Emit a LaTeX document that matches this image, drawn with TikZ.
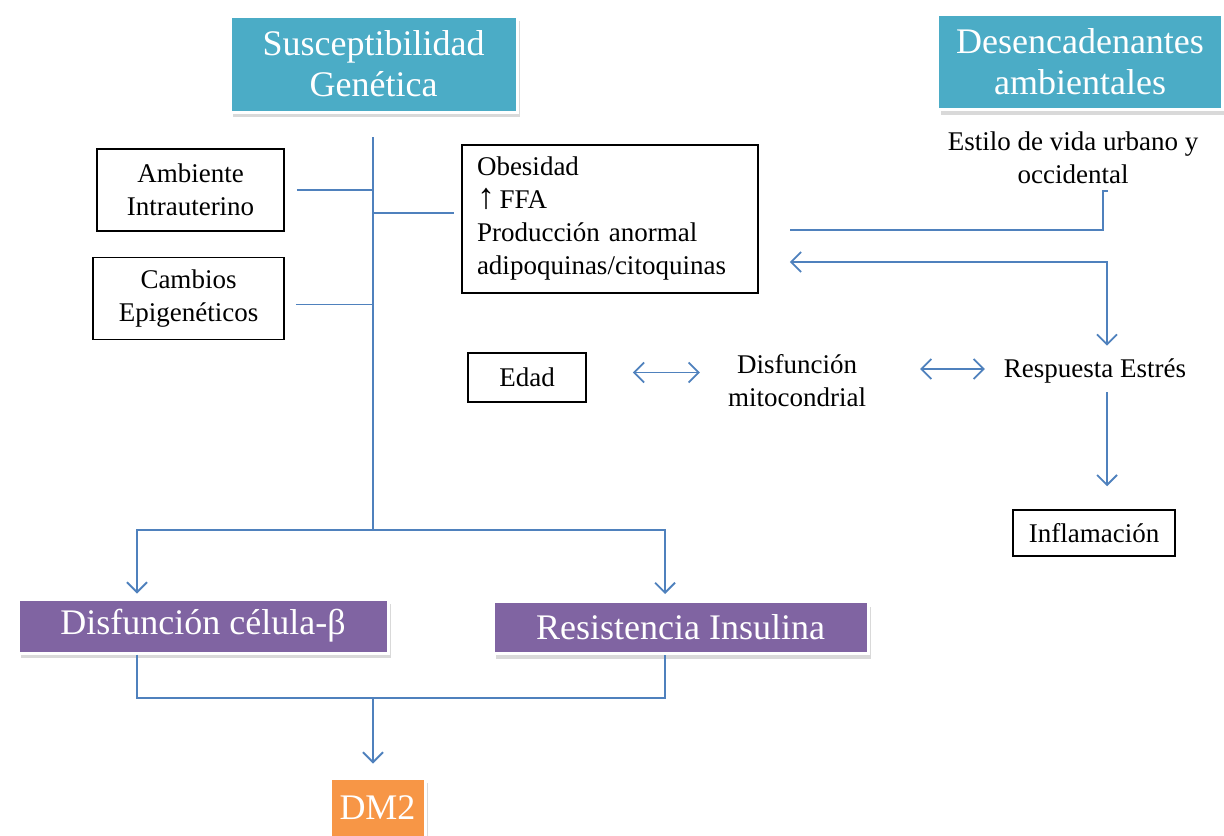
\documentclass[tikz,border=0pt]{standalone}
\usepackage{fontspec}
\setmainfont{Liberation Serif}
\usetikzlibrary{arrows.meta, positioning, shadows}
\definecolor{tealbox}{HTML}{4BACC6}
\definecolor{purplebox}{HTML}{8064A2}
\definecolor{orangebox}{HTML}{F79646}
\definecolor{linkblue}{HTML}{4F81BD}
\tikzstyle{head} = [rectangle, fill=tealbox, draw=white, line width=1.5pt, text=white, align=center, font=\fontsize{18}{20.5}\selectfont, drop shadow={shadow xshift=1.5pt, shadow yshift=-2.5pt, opacity=0.3}]
\tikzstyle{outcome} = [head, fill=purplebox, inner ysep=2pt]
\tikzstyle{factor} = [rectangle, draw=black, line width=0.75pt, align=center, font=\fontsize{13.5}{16.5}\selectfont]
\tikzstyle{plain} = [align=center, font=\fontsize{13.5}{16.5}\selectfont]
\tikzstyle{connector} = [draw=linkblue, line width=0.9pt]
\tikzstyle{arrow} = [connector, -{Straight Barb[length=5pt, width=10pt]}]
\tikzstyle{twoway} = [connector, {Straight Barb[length=5pt, width=10pt]}-{Straight Barb[length=5pt, width=10pt]}]

\begin{document}
\begin{tikzpicture}[x=0.5pt, y=-0.5pt]
\useasboundingbox (0,0) rectangle (1224,835);

\node (sus) [head, minimum width=143.5pt, minimum height=48pt] at (373.5,64) {Susceptibilidad\\Genética};

\node (des) [head, minimum width=142.5pt, minimum height=47.5pt] at (1080,62) {Desencadenantes\\ambientales};

\node (estilo) [plain] at (1073,158) {Estilo de vida urbano y\\occidental};

\node (amb) [factor, minimum width=93.5pt, minimum height=41pt] at (190.5,190) {Ambiente\\Intrauterino};

\node (cam) [factor, below=12.5pt of amb, xshift=-1pt, minimum width=95.5pt, minimum height=41pt] {Cambios\\Epigenéticos};

\node (obes) [factor, align=left, text width=133pt, inner xsep=7.5pt, minimum height=74pt] at (610,219) {Obesidad\\{\fontsize{18}{16.5}\selectfont↑}\,FFA\\Producción anormal\\adipoquinas/citoquinas};

\node (edad) [factor, minimum width=59pt, minimum height=24.5pt] at (527,377.5) {Edad};

\node (mito) [plain] at (797,381) {Disfunción\\mitocondrial};

\node (estres) [plain] at (1095,371) {Respuesta Estrés};

\node (infl) [factor, minimum width=81pt, minimum height=23pt] at (1094,533) {Inflamación};

\node (celb) [outcome, minimum width=185pt, minimum height=27pt] at (203,626) {Disfunción célula-β};

\node (resi) [outcome, minimum width=187.5pt, minimum height=26pt] at (680.5,627.5) {Resistencia Insulina};

\node (dm2) [head, fill=orangebox, minimum width=47.5pt, minimum height=30pt] at (377.5,808) {DM2};

\coordinate (trunk) at (373,137);
\coordinate (split) at (373,530);
\coordinate (join) at (373,698);
\coordinate (fork) at (1107,262);

\draw [connector] (trunk) -- (split);
\draw [connector] ([xshift=6pt]amb.east) -- (amb.east -| trunk);
\draw [connector] ([xshift=5.5pt, yshift=-3pt]cam.east) -- ([yshift=-3pt]cam.east -| trunk);
\draw [connector] ([yshift=3pt]obes.west -| trunk) -- ([xshift=-3.5pt, yshift=3pt]obes.west);
\draw [arrow] (split) -| ([xshift=-33pt, yshift=2pt]celb.north);
\draw [arrow] (split) -| ([xshift=-7.75pt, yshift=3pt]resi.north);
\draw [connector] ([xshift=-33pt]celb.south) |- (join);
\draw [connector] ([xshift=-7.75pt]resi.south) |- (join);
\draw [arrow, shorten >=6.5pt] (join) -- (join |- dm2.north);
\draw [connector] ([xshift=17.5pt]estilo.south) -- ++(-2.5pt,0) |- ([xshift=15.5pt, yshift=-5.5pt]obes.east);
\draw [twoway, shorten >=3pt] ([xshift=15.5pt, yshift=-21.5pt]obes.east) -- (fork) -- (fork |- estres.north);
\draw [twoway, shorten <=23pt, shorten >=10.5pt] ([yshift=2.5pt]edad.east) -- ([yshift=2.5pt]edad.east -| mito.west);
\draw [twoway, shorten <=23.5pt, shorten >=6pt] ([yshift=6pt]mito.east) -- ([yshift=6pt]mito.east -| estres.west);
\draw [arrow, shorten <=1pt, shorten >=11.5pt] (fork |- estres.south) -- (fork |- infl.north);
\end{tikzpicture}
\end{document}
